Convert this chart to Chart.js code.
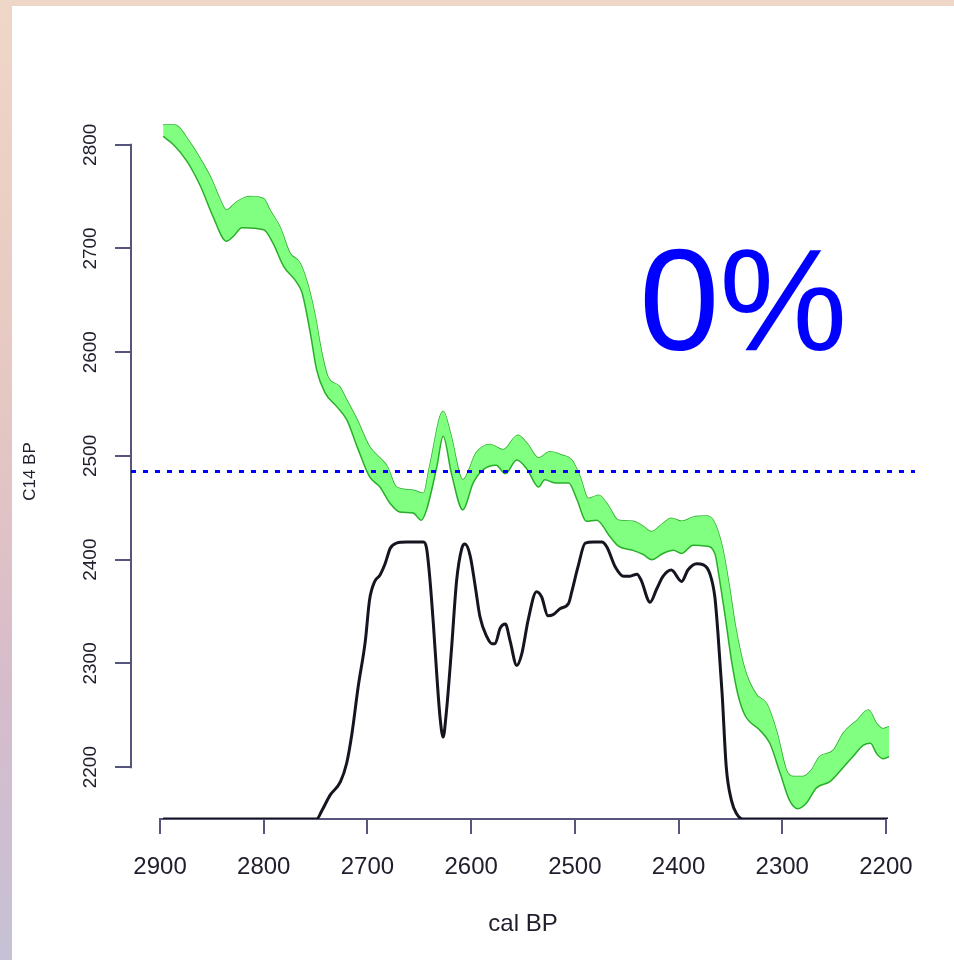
<!DOCTYPE html>
<html>
<head>
<meta charset="utf-8">
<script src="https://cdn.jsdelivr.net/npm/chart.js@4.4.1/dist/chart.umd.min.js"></script>
<style>
  html, body {
    margin: 0; padding: 0; width: 954px; height: 960px; overflow: hidden;
    background: linear-gradient(to bottom, #efd7c7 0%, #e6c8c2 40%, #d6bccb 72%, #c6c1d5 100%);
  }
  #panel { position: absolute; left: 12px; top: 6px; right: 0; bottom: 0; background: #ffffff; }
  #wrap { position: absolute; left: 0; top: 0; width: 954px; height: 960px; }
</style>
</head>
<body>
<div id="panel"></div>
<div id="wrap"><canvas id="chart" width="954" height="960"></canvas></div>
<script>
// Axis ticks
const xTickValues = [2900, 2800, 2700, 2600, 2500, 2400, 2300, 2200];
const yTickValues = [2200, 2300, 2400, 2500, 2600, 2700, 2800];

// Calibration curve band: upper edge (cal BP, C14 BP)
const upperYears = [2897, 2886, 2871, 2858, 2850, 2842, 2836, 2826, 2813, 2800, 2794, 2784, 2775, 2765, 2758, 2751, 2744, 2738, 2727, 2720, 2710, 2698, 2688, 2681, 2672, 2656, 2646, 2640, 2627, 2620, 2608, 2595, 2582, 2569, 2555, 2546, 2535, 2524, 2513, 2503, 2495, 2487, 2477, 2469, 2458, 2444, 2434, 2426, 2415, 2407, 2397, 2386, 2373, 2366, 2358, 2351, 2345, 2336, 2325, 2315, 2305, 2296, 2289, 2280, 2272, 2264, 2251, 2241, 2228, 2217, 2209, 2203, 2197];
const upperC14   = [2819, 2819, 2802, 2781, 2766, 2747, 2737, 2745, 2750, 2748, 2737, 2720, 2696, 2686, 2667, 2638, 2599, 2576, 2567, 2554, 2535, 2509, 2498, 2490, 2470, 2467, 2464, 2490, 2543, 2522, 2477, 2503, 2511, 2506, 2520, 2512, 2498, 2504, 2501, 2496, 2480, 2459, 2462, 2454, 2438, 2437, 2432, 2427, 2435, 2440, 2437, 2441, 2442, 2437, 2413, 2374, 2335, 2294, 2270, 2261, 2233, 2197, 2191, 2191, 2197, 2210, 2216, 2233, 2245, 2255, 2242, 2237, 2239];

// Calibration curve band: lower edge
const lowerYears = [2897, 2887, 2874, 2861, 2849, 2836, 2829, 2821, 2800, 2791, 2781, 2768, 2763, 2755, 2749, 2741, 2730, 2720, 2710, 2698, 2688, 2678, 2669, 2656, 2648, 2643, 2633, 2627, 2619, 2608, 2598, 2588, 2576, 2567, 2556, 2546, 2535, 2529, 2519, 2506, 2498, 2489, 2479, 2466, 2458, 2444, 2434, 2426, 2415, 2405, 2397, 2386, 2373, 2365, 2361, 2355, 2349, 2343, 2336, 2322, 2312, 2302, 2293, 2285, 2277, 2267, 2254, 2241, 2232, 2222, 2215, 2209, 2203, 2197];
const lowerC14   = [2808, 2800, 2784, 2760, 2731, 2707, 2712, 2720, 2718, 2705, 2683, 2667, 2657, 2618, 2583, 2561, 2548, 2535, 2509, 2480, 2470, 2454, 2446, 2445, 2438, 2448, 2490, 2519, 2483, 2448, 2474, 2487, 2491, 2483, 2496, 2487, 2470, 2477, 2474, 2474, 2458, 2437, 2438, 2422, 2413, 2409, 2405, 2400, 2406, 2409, 2406, 2414, 2413, 2406, 2384, 2345, 2303, 2271, 2250, 2236, 2223, 2194, 2168, 2160, 2165, 2180, 2186, 2200, 2210, 2221, 2223, 2213, 2208, 2210];

// Calibrated date distribution, drawn on the C14 axis above its baseline
const densityYears = [2897, 2749, 2744, 2736, 2726, 2720, 2715, 2709, 2702, 2698, 2693, 2688, 2683, 2678, 2672, 2662, 2652, 2646, 2643, 2640, 2636.5, 2633, 2630, 2627, 2624, 2619, 2614, 2609, 2606, 2601, 2596, 2591.5, 2585, 2580, 2577, 2572, 2567, 2562.5, 2556, 2551, 2545, 2537, 2532, 2526, 2521, 2514, 2506, 2503, 2497, 2490, 2482, 2474, 2469, 2461, 2453, 2447, 2440, 2436, 2427.5, 2421, 2415, 2407, 2397, 2391, 2382.5, 2376, 2370, 2365, 2362, 2358, 2354, 2349, 2344, 2338, 2198];
const densityC14   = [2150, 2150, 2158, 2173, 2186, 2204, 2232, 2277, 2322, 2361, 2379, 2385, 2396, 2411, 2416, 2417, 2417, 2417, 2411, 2384, 2339, 2287, 2248, 2229, 2252, 2313, 2380, 2411, 2415, 2404, 2374, 2345, 2326, 2319, 2319, 2334, 2338, 2322, 2298, 2310, 2342, 2369, 2364, 2346, 2347, 2353, 2358, 2369, 2393, 2416, 2417, 2417, 2412, 2393, 2384, 2384, 2386, 2380, 2359, 2372, 2384, 2390, 2379, 2390, 2396, 2395, 2387, 2364, 2329, 2271, 2200, 2168, 2155, 2150, 2150];

// Measured C14 age
const cutoffC14 = 2485;

// Big annotation
const percentText = '0%';
const percentYear = 2438;
const percentC14 = 2602;

const axisColor = '#56567c';
const labelColor = '#1e1e2c';
const bandFill = 'rgb(128,255,128)';
const bandEdge = 'rgba(25,165,25,0.9)';
const fontFamily = "'Liberation Sans', Arial, sans-serif";

const toPoints = (xs, ys) => xs.map((x, i) => ({ x: x, y: ys[i] }));

// Axis lines that only span the first to last tick
const axisLines = {
  id: 'axisLines',
  beforeDatasetsDraw(chart) {
    const { ctx, chartArea, scales: { x, y } } = chart;
    ctx.save();
    ctx.strokeStyle = axisColor;
    ctx.lineWidth = 2;
    ctx.beginPath();
    ctx.moveTo(x.getPixelForValue(xTickValues[0]) - 1, chartArea.bottom);
    ctx.lineTo(x.getPixelForValue(xTickValues[xTickValues.length - 1]) + 1, chartArea.bottom);
    ctx.stroke();
    ctx.beginPath();
    ctx.moveTo(chartArea.left, y.getPixelForValue(yTickValues[0]) + 1);
    ctx.lineTo(chartArea.left, y.getPixelForValue(yTickValues[yTickValues.length - 1]) - 1);
    ctx.stroke();
    ctx.restore();
  }
};

const percentLabel = {
  id: 'percentLabel',
  afterDatasetsDraw(chart) {
    const { ctx, scales: { x, y } } = chart;
    ctx.save();
    ctx.font = "144px " + fontFamily;
    ctx.fillStyle = '#0000ff';
    ctx.textAlign = 'left';
    ctx.textBaseline = 'alphabetic';
    ctx.fillText(percentText, x.getPixelForValue(percentYear), y.getPixelForValue(percentC14));
    ctx.restore();
  }
};

new Chart(document.getElementById('chart'), {
  type: 'line',
  data: {
    datasets: [
      {
        label: 'upper',
        data: toPoints(upperYears, upperC14),
        borderColor: bandEdge, borderWidth: 1.5, pointRadius: 0,
        fill: false, cubicInterpolationMode: 'monotone', order: 3
      },
      {
        label: 'lower',
        data: toPoints(lowerYears, lowerC14),
        borderColor: bandEdge, borderWidth: 1.5, pointRadius: 0,
        fill: '-1', backgroundColor: bandFill,
        cubicInterpolationMode: 'monotone', order: 2
      },
      {
        label: 'cutoff',
        data: [{ x: 2928, y: cutoffC14 }, { x: 2172, y: cutoffC14 }],
        borderColor: '#0000ff', borderWidth: 3, borderDash: [5, 7],
        pointRadius: 0, fill: false, order: 1
      },
      {
        label: 'density',
        data: toPoints(densityYears, densityC14),
        borderColor: '#15151f', borderWidth: 3, pointRadius: 0,
        fill: false, cubicInterpolationMode: 'monotone', order: 0
      }
    ]
  },
  options: {
    responsive: false,
    animation: false,
    devicePixelRatio: 1,
    layout: { padding: { left: 0, right: 39, top: 124, bottom: 0 } },
    plugins: { legend: { display: false }, tooltip: { enabled: false } },
    scales: {
      x: {
        type: 'linear', reverse: true, min: 2172, max: 2928,
        afterBuildTicks: s => { s.ticks = xTickValues.map(v => ({ value: v })); },
        afterFit: s => { s.height = 141; },
        border: { display: false },
        grid: { drawOnChartArea: false, drawTicks: true, tickLength: 15, tickColor: axisColor, lineWidth: 2 },
        ticks: {
          autoSkip: false, maxRotation: 0, padding: 19,
          font: { family: fontFamily, size: 24 }, color: labelColor,
          callback: v => String(v)
        },
        title: {
          display: true, text: 'cal BP', color: labelColor,
          font: { family: fontFamily, size: 24 }, padding: { top: 0, bottom: 21 }
        }
      },
      y: {
        type: 'linear', min: 2150, max: 2820,
        afterBuildTicks: s => { s.ticks = yTickValues.map(v => ({ value: v })); },
        afterFit: s => { s.width = 131; },
        border: { display: false },
        grid: { drawOnChartArea: false, drawTicks: true, tickLength: 16, tickColor: axisColor, lineWidth: 2 },
        ticks: {
          autoSkip: false, minRotation: 90, maxRotation: 90, crossAlign: 'center', padding: 3,
          font: { family: fontFamily, size: 19 }, color: labelColor,
          callback: v => String(v)
        },
        title: {
          display: true, text: 'C14 BP', color: labelColor,
          font: { family: fontFamily, size: 17 }, padding: { top: 20, bottom: 0 }
        }
      }
    }
  },
  plugins: [axisLines, percentLabel]
});
</script>
</body>
</html>
